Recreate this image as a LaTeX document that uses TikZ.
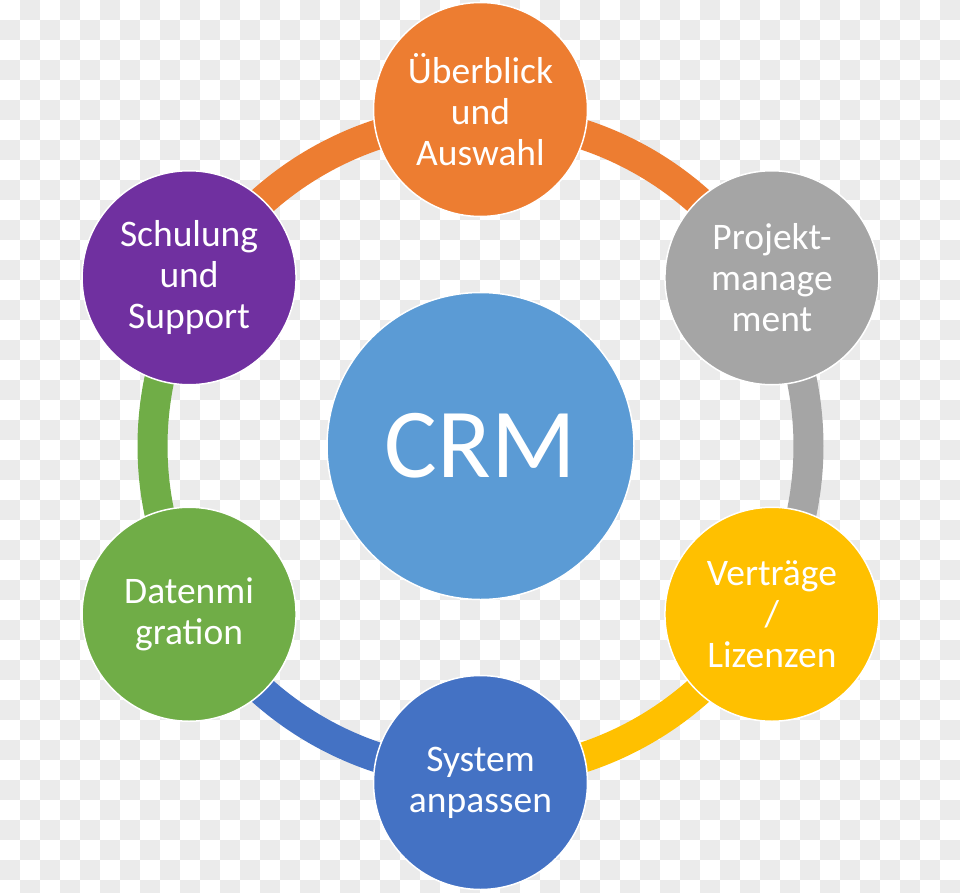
\documentclass[tikz,border=0pt]{standalone}
\usepackage{fontspec}
\setmainfont{Carlito}
\usepackage{xcolor}
\definecolor{crmblue}{HTML}{5B9BD5}
\definecolor{orange}{HTML}{ED7D31}
\definecolor{midgray}{HTML}{A5A5A5}
\definecolor{gold}{HTML}{FFC000}
\definecolor{royal}{HTML}{4472C4}
\definecolor{leaf}{HTML}{70AD47}
\definecolor{violet}{HTML}{7030A0}
\definecolor{checker}{HTML}{EBEBEB}
\usepackage{tikz}
\usetikzlibrary{positioning}

\tikzset{
  phase/.style={circle, draw=white, line width=1.5pt, minimum size=214pt, inner sep=0pt,
    text=white, align=center, font=\fontsize{37.5}{41}\selectfont},
  ring/.style={line width=30pt}
}

\begin{document}
\begin{tikzpicture}[x=1pt,y=1pt]
    \useasboundingbox (-480.5,-446) rectangle (479.5,446);
    % Checkered background
    \fill[white] (-480.5,-446) rectangle (479.5,446);
    \begin{scope}
      \clip (-480.5,-446) rectangle (479.5,446);
      \foreach \j in {0,...,44} {
        \pgfmathtruncatemacro\s{mod(\j+1,2)}
        \pgfmathtruncatemacro\t{\s+2}
        \foreach \i in {\s,\t,...,47}
          \fill[checker] ({20*\i-480.5},{446-20*\j}) rectangle ++(20,-20);
      }
    \end{scope}
    % Ring segments
    \def\r{336.5}
    \def\ra{328}
    \draw[ring, orange] (30:\ra) arc[start angle=30, end angle=150, radius=\ra];
    \draw[ring, midgray] (-30:\ra) arc[start angle=-30, end angle=30, radius=\ra];
    \draw[ring, gold] (-90:\ra) arc[start angle=-90, end angle=-30, radius=\ra];
    \draw[ring, royal] (-150:\ra) arc[start angle=-150, end angle=-90, radius=\ra];
    \draw[ring, leaf] (150:\ra) arc[start angle=150, end angle=210, radius=\ra];
    % Centre
    \node[circle, fill=crmblue, draw=white, line width=1.5pt, minimum size=307pt, inner sep=0pt,
      text=white, font=\fontsize{99}{110}\selectfont] (crm) at (0,0) {CRM};
    % Phases
    \node[phase, fill=orange] (overview) at (90:\r) {Überblick\\und\\Auswahl};
    \node[phase, fill=midgray] (project) at (30:\r) {Projekt-\\manage\\ment};
    \node[phase, fill=gold] (contracts) at (-30:\r) {Verträge\\/\\Lizenzen};
    \node[phase, fill=royal] (system) at (-90:\r) {System\\anpassen};
    \node[phase, fill=leaf] (migration) at (-150:\r) {Datenmi\\gration};
    \node[phase, fill=violet] (training) at (150:\r) {Schulung\\und\\Support};
  \end{tikzpicture}
\end{document}
